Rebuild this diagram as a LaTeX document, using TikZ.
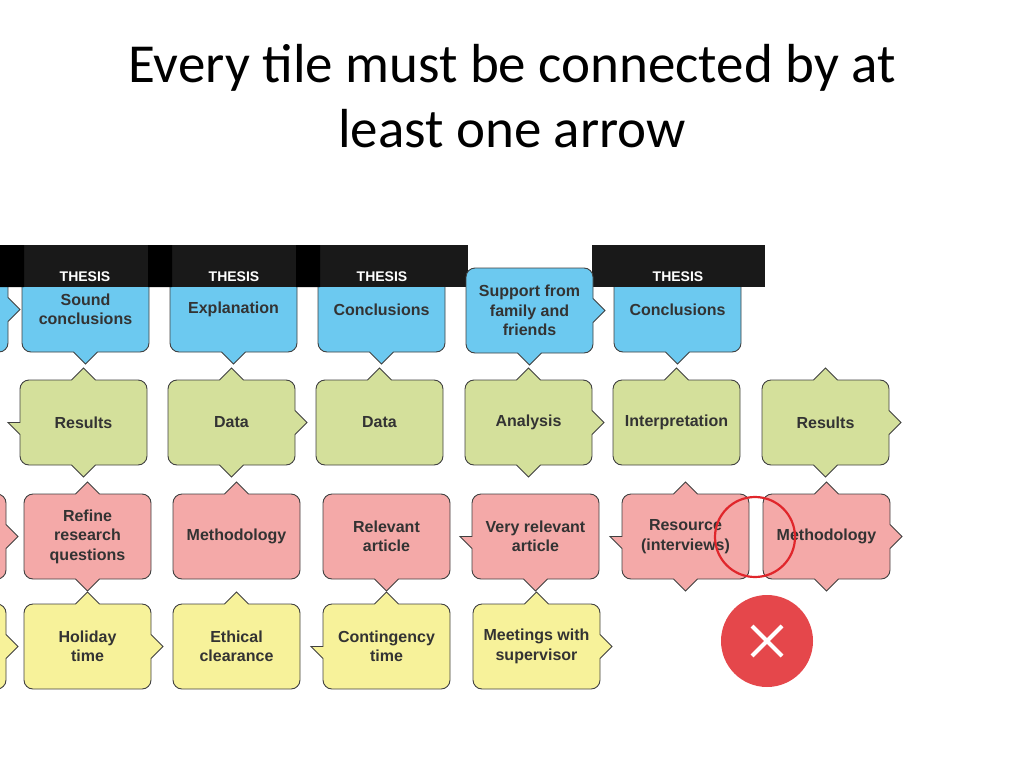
\documentclass[tikz,border=0pt]{standalone}
\usepackage{fontspec}
\setmainfont{Liberation Sans}
\newfontfamily\titlefont{Carlito}
\definecolor{tblue}{HTML}{6CC9F0}
\definecolor{tgreen}{HTML}{D4E09B}
\definecolor{tpink}{HTML}{F4A9A8}
\definecolor{tyellow}{HTML}{F7F29A}
\definecolor{tred}{HTML}{E0262B}
\definecolor{tx}{HTML}{333333}
\tikzset{tiletext/.style={align=center,font=\bfseries\fontsize{16}{19.5}\selectfont,text=tx,inner sep=0pt},
tileline/.style={draw=black!75,line width=0.9pt},
thesis/.style={text=white,font=\bfseries\fontsize{14}{16}\selectfont}}
% name,x1,y1,fill,text,T,B,L,R
\newcommand\tile[9]{%
 \pgfmathsetmacro\xa{#2}\pgfmathsetmacro\ya{#3}%
 \pgfmathsetmacro\xb{#2+127}\pgfmathsetmacro\yb{#3+85}%
 \pgfmathsetmacro\cx{#2+63.5}\pgfmathsetmacro\cy{#3+42.5}%
 \path[tileline,fill=#4] (\xa,\cy)
  [rounded corners=9] -- (\xa,\ya) [sharp corners] -- (\cx-12,\ya) -- (\cx,\ya-12*#6) -- (\cx+12,\ya)
  [rounded corners=9] -- (\xb,\ya) [sharp corners] -- (\xb,\cy-12) -- (\xb+12*#9,\cy) -- (\xb,\cy+12)
  [rounded corners=9] -- (\xb,\yb) [sharp corners] -- (\cx+12,\yb) -- (\cx,\yb+12*#7) -- (\cx-12,\yb)
  [rounded corners=9] -- (\xa,\yb) [sharp corners] -- (\xa,\cy+12) -- (\xa-12*#8,\cy) -- cycle;
 \node[tiletext] (#1) at (\cx,\cy) {#5};}
\begin{document}
\begin{tikzpicture}[x=1pt,y=-1pt]
\useasboundingbox (0,0) rectangle (1024,768);
\node[font=\titlefont\fontsize{55}{65}\selectfont,align=center] (title) at (512,96) {Every tile must be connected by at\\least one arrow};
% partial tiles at the left edge
\tile{pb}{-119}{267}{tblue}{}{0}{0}{0}{1}
\tile{pg}{-135}{380}{tgreen}{}{0}{0}{0}{0}
\tile{pp}{-121}{494}{tpink}{}{0}{0}{0}{1}
\tile{py}{-121}{604}{tyellow}{}{0}{0}{0}{1}
% blue row
\tile{b1}{22}{267}{tblue}{Sound\\conclusions}{0}{1}{0}{0}
\tile{b2}{170}{267}{tblue}{Explanation}{0}{1}{0}{0}
\tile{b3}{318}{267}{tblue}{Conclusions}{0}{1}{0}{0}
\tile{b5}{614}{267}{tblue}{Conclusions}{0}{1}{0}{0}
\fill[black!90] (0,245) rectangle (468,287);
\fill[black] (0,245) rectangle (24,287) (148,245) rectangle (172,287) (296,245) rectangle (320,287);
\fill[black!90] (592,245) rectangle (765,287);
\node[thesis] (t1) at (85,277) {THESIS};
\node[thesis] (t2) at (234,277) {THESIS};
\node[thesis] (t3) at (382,277) {THESIS};
\node[thesis] (t5) at (678,277) {THESIS};
\tile{b4}{466}{268}{tblue}{Support from\\family and\\friends}{0}{1}{0}{1}
% green row
\tile{g1}{20}{380}{tgreen}{Results}{1}{1}{1}{0}
\tile{g2}{168}{380}{tgreen}{Data}{1}{1}{0}{1}
\tile{g3}{316}{380}{tgreen}{Data}{1}{0}{0}{0}
\tile{g4}{465}{380}{tgreen}{Analysis}{1}{1}{0}{1}
\tile{g5}{613}{380}{tgreen}{Interpretation}{1}{0}{0}{0}
\tile{g6}{762}{380}{tgreen}{Results}{1}{1}{0}{1}
% pink row
\tile{p1}{24}{494}{tpink}{Refine\\research\\questions}{1}{1}{0}{0}
\tile{p2}{173}{494}{tpink}{Methodology}{1}{0}{0}{0}
\tile{p3}{323}{494}{tpink}{Relevant\\article}{0}{1}{0}{0}
\tile{p4}{472}{494}{tpink}{Very relevant\\article}{0}{1}{1}{0}
\tile{p5}{622}{494}{tpink}{Resource\\(interviews)}{1}{1}{1}{0}
\tile{p6}{763}{494}{tpink}{Methodology}{1}{1}{0}{1}
% yellow row
\tile{y1}{24}{604}{tyellow}{Holiday\\time}{1}{0}{0}{1}
\tile{y2}{173}{604}{tyellow}{Ethical\\clearance}{1}{0}{0}{0}
\tile{y3}{323}{604}{tyellow}{Contingency\\time}{1}{0}{1}{0}
\tile{y4}{473}{604}{tyellow}{Meetings with\\supervisor}{1}{0}{0}{1}
% markers
\node[circle,draw=tred,line width=2.2pt,minimum size=80pt] (ring) at (755,537) {};
\node[circle,fill=tred!85!white,minimum size=92pt] (xmark) at (767,641) {};
\draw[white,line width=4pt] (752,626) -- (782,656) (782,626) -- (752,656);
\end{tikzpicture}
\end{document}
